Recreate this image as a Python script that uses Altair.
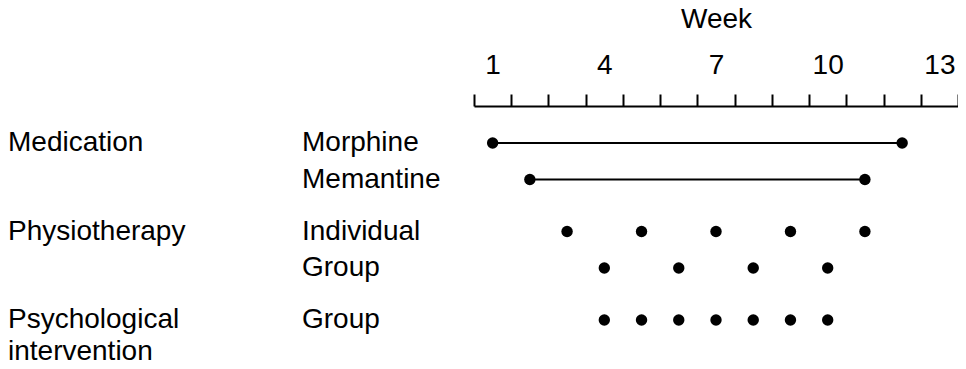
import altair as alt
import pandas as pd

# ---- data ----
weeks = list(range(1, 14))
week_labels = [1, 4, 7, 10, 13]

group_keys = ["Medication", "Physiotherapy", "Psychological intervention"]
group_texts = ["Medication", "Physiotherapy", "Psychological\nintervention"]

sub_labels = ["Morphine", "Memantine", "Individual", "Group", "Group"]
sub_groups = ["Medication", "Medication", "Physiotherapy", "Physiotherapy",
              "Psychological intervention"]
sub_slots = ["1", "2", "1", "2", "1"]

# continuous medication courses (start week, end week)
course_names = ["Morphine", "Memantine"]
course_start = [1, 2]
course_end = [12, 11]

# session weeks
physio_individual_weeks = [3, 5, 7, 9, 11]
physio_group_weeks = [4, 6, 8, 10]
psych_group_weeks = [4, 5, 6, 7, 8, 9, 10]

# ---- tables ----
lines_df = pd.DataFrame({
    "name": course_names,
    "group": ["Medication", "Medication"],
    "slot": ["1", "2"],
    "start": course_start,
    "end": course_end,
})

pts = []
for n, s, e, slot in zip(course_names, course_start, course_end, ["1", "2"]):
    pts.append({"week": s, "group": "Medication", "slot": slot})
    pts.append({"week": e, "group": "Medication", "slot": slot})
for w in physio_individual_weeks:
    pts.append({"week": w, "group": "Physiotherapy", "slot": "1"})
for w in physio_group_weeks:
    pts.append({"week": w, "group": "Physiotherapy", "slot": "2"})
for w in psych_group_weeks:
    pts.append({"week": w, "group": "Psychological intervention", "slot": "1"})
points_df = pd.DataFrame(pts)

sub_df = pd.DataFrame({"label": sub_labels, "group": sub_groups, "slot": sub_slots})
grp_df = pd.DataFrame({"label": group_texts, "group": group_keys, "slot": ["1"] * 3})

FONT = "Liberation Sans"
FS = 28

label_expr = "indexof([" + ",".join(str(v) for v in week_labels) + "], datum.value) >= 0 ? datum.label : ''"

x_scale = alt.Scale(type="band", domain=weeks, paddingInner=0, paddingOuter=0)
x_axis = alt.Axis(
    orient="top", title="Week", tickBand="extent", labelExpr=label_expr,
    labelAngle=0, tickSize=12, tickWidth=2, tickColor="black",
    domainWidth=2, domainColor="black", labelFontSize=FS, labelFont=FONT,
    labelColor="black", labelPadding=15, titleFontSize=FS, titleFont=FONT,
    titleFontWeight="normal", titleColor="black", titleY=-87,
    titleBaseline="middle", grid=False,
)

y_enc = alt.Y("group:N", scale=alt.Scale(type="band", domain=group_keys,
                                          range=[18.75, 284.25],
                                          paddingInner=0, paddingOuter=0),
              axis=None)
yoff_enc = alt.YOffset("slot:N", scale=alt.Scale(domain=["1", "2"], range=[0, 73],
                                                 paddingInner=0, paddingOuter=0))

rules = alt.Chart(lines_df).mark_rule(color="black", strokeWidth=2).encode(
    x=alt.X("start:O", scale=x_scale, axis=x_axis),
    x2="end:O",
    y=y_enc,
    yOffset=yoff_enc,
)

dots = alt.Chart(points_df).mark_circle(color="black", opacity=1, size=130).encode(
    x=alt.X("week:O", scale=x_scale, axis=x_axis),
    y=y_enc,
    yOffset=yoff_enc,
)

sub_text = alt.Chart(sub_df).mark_text(
    align="left", baseline="middle", font=FONT, fontSize=FS, color="black"
).encode(
    x=alt.value(-172),
    y=y_enc,
    yOffset=yoff_enc,
    text="label:N",
)

grp_text = alt.Chart(grp_df).mark_text(
    align="left", baseline="top", font=FONT, fontSize=FS, color="black",
    lineBreak="\n", lineHeight=32, dy=-14
).encode(
    x=alt.value(-466),
    y=y_enc,
    yOffset=yoff_enc,
    text="label:N",
)

chart = alt.layer(rules, dots, sub_text, grp_text).properties(
    width=484, height=255,
    padding={"left": 466, "top": 98, "right": 0, "bottom": 0},
    autosize="none",
    background="white",
).configure_view(strokeWidth=0, stroke="transparent")

chart.save("out.html", embed_options={"renderer": "svg", "actions": False})
